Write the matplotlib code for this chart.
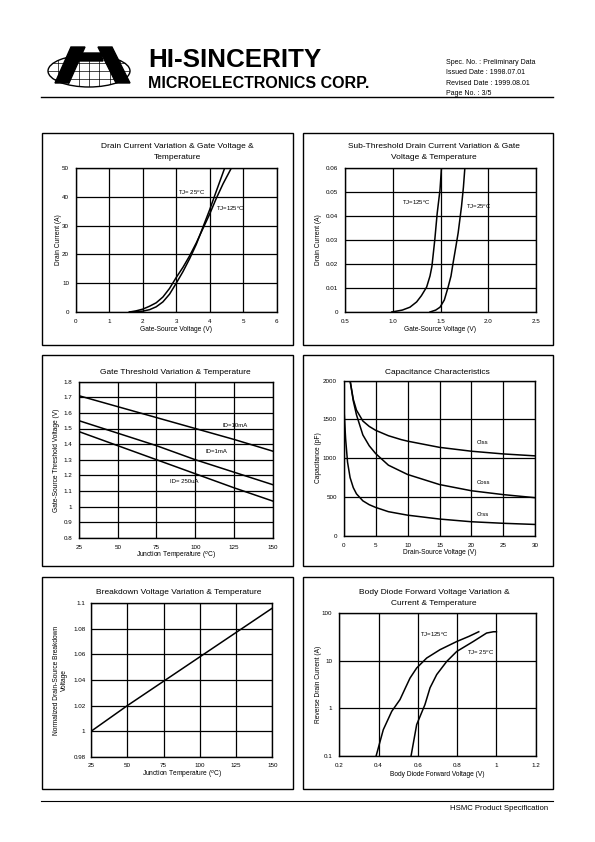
import matplotlib
matplotlib.use("Agg")
import matplotlib.pyplot as plt
from matplotlib.patches import Ellipse, Polygon, Rectangle
from matplotlib.lines import Line2D
import numpy as np

plt.rcParams['font.family'] = ['Liberation Sans', 'DejaVu Sans']

# ---------------- data ----------------
# Panel 1: Drain current vs gate voltage
id_vgs_125_x = [1.6, 1.8, 2.0, 2.2, 2.4, 2.6, 2.8, 3.0, 3.2, 3.4, 3.6, 3.8, 4.0, 4.2, 4.4, 4.65]
id_vgs_125_y = [0.0, 0.4, 1.0, 2.0, 3.2, 5.2, 8.2, 12.0, 15.5, 19.5, 24.0, 29.0, 34.0, 39.5, 44.5, 50.0]
id_vgs_25_x = [1.6, 1.8, 2.0, 2.2, 2.4, 2.6, 2.8, 3.0, 3.2, 3.4, 3.6, 3.8, 4.0, 4.2, 4.45]
id_vgs_25_y = [0.0, 0.1, 0.3, 0.8, 1.8, 3.5, 6.2, 10.0, 14.0, 18.5, 23.5, 29.5, 35.5, 42.0, 50.0]

# Panel 2: Sub-threshold drain current
sub_125_x = [0.99, 1.1, 1.18, 1.25, 1.3, 1.355, 1.39, 1.41, 1.44, 1.465, 1.495, 1.51]
sub_125_y = [0.0, 0.0008, 0.002, 0.0042, 0.0068, 0.0104, 0.015, 0.019, 0.030, 0.041, 0.051, 0.060]
sub_25_x = [1.39, 1.45, 1.495, 1.54, 1.58, 1.61, 1.63, 1.66, 1.685, 1.72, 1.74, 1.755]
sub_25_y = [0.0, 0.0008, 0.002, 0.005, 0.0104, 0.015, 0.020, 0.027, 0.033, 0.044, 0.052, 0.060]

# Panel 3: Gate threshold vs temperature
tj_temp = [25, 50, 75, 100, 125, 150]
vth_10ma = [1.71, 1.64, 1.57, 1.50, 1.43, 1.355]
vth_1ma = [1.55, 1.47, 1.39, 1.30, 1.22, 1.14]
vth_250ua = [1.48, 1.39, 1.30, 1.21, 1.12, 1.035]

# Panel 4: Capacitance
ciss_v = [1.0, 1.5, 2, 3, 4, 5, 7, 9, 10, 15, 20, 25, 30]
ciss_c = [2000, 1760, 1620, 1480, 1410, 1360, 1290, 1240, 1220, 1140, 1090, 1055, 1030]
coss_v = [1.0, 1.5, 2, 3, 4, 5, 7, 10, 15, 20, 25, 30]
coss_c = [2000, 1740, 1560, 1300, 1160, 1060, 910, 790, 660, 580, 530, 490]
crss_v = [0, 0.3, 0.6, 1.0, 1.5, 2, 3, 4, 5, 7, 10, 15, 20, 25, 30]
crss_c = [1700, 1250, 950, 750, 620, 540, 450, 400, 365, 310, 265, 215, 180, 160, 145]

# Panel 5: Breakdown voltage vs temperature
bv_temp = [25, 50, 75, 100, 125, 150]
bv_norm = [1.0, 1.02, 1.039, 1.058, 1.077, 1.096]

# Panel 6: Body diode
bd_125_v = [0.387, 0.424, 0.467, 0.509, 0.535, 0.56, 0.594, 0.645, 0.713, 0.798, 0.86, 0.91]
bd_125_i = [0.1, 0.36, 0.87, 1.53, 2.6, 4.3, 7.0, 11.3, 16.9, 25.0, 32.0, 40.0]
bd_25_v = [0.565, 0.594, 0.636, 0.662, 0.696, 0.747, 0.798, 0.882, 0.95, 0.985, 1.0]
bd_25_i = [0.1, 0.46, 1.2, 2.7, 5.1, 9.6, 15.5, 25.0, 37.6, 40.0, 40.0]

W, H = 595, 842
fig = plt.figure(figsize=(W / 100, H / 100), dpi=100)

def rect(x0, y0, x1, y1):
    return [x0 / W, 1 - y1 / H, (x1 - x0) / W, (y1 - y0) / H]

# background drawing layer in pixel coords
bg = fig.add_axes([0, 0, 1, 1])
bg.set_xlim(0, W)
bg.set_ylim(H, 0)
bg.axis('off')

# panel boxes
for (x0, x1) in [(42, 293), (303, 553)]:
    for (y0, y1) in [(133, 345), (355, 566), (577, 789)]:
        bg.add_patch(Rectangle((x0, y0), x1 - x0, y1 - y0, fill=False, lw=1.0, ec='black'))

# header / footer rules
bg.add_line(Line2D([41, 553], [97, 97], color='black', lw=1.0))
bg.add_line(Line2D([41, 553], [801, 801], color='black', lw=0.8))

# logo
ell = Ellipse((89, 71), 82, 32, fill=False, ec='black', lw=1.0)
bg.add_patch(ell)
clipell = Ellipse((89, 71), 82, 32, transform=bg.transData)
for gx in [58, 68, 79, 89, 99, 110, 120]:
    ln = Line2D([gx, gx], [50, 92], color='black', lw=0.5)
    bg.add_line(ln)
    ln.set_clip_path(clipell)
for gy in [63, 71, 79]:
    ln = Line2D([40, 140], [gy, gy], color='black', lw=0.5)
    bg.add_line(ln)
    ln.set_clip_path(clipell)
bg.add_patch(Polygon([(71, 47), (85, 47), (69, 83), (55, 83)], closed=True, fc='black', ec='black'))
bg.add_patch(Polygon([(98, 47), (112, 47), (130, 83), (116, 83)], closed=True, fc='black', ec='black'))
bg.add_patch(Polygon([(82, 53), (101, 53), (103, 61), (79, 61)], closed=True, fc='black', ec='black'))

bg.text(148, 67, "HI-SINCERITY", fontsize=18.7, fontweight='bold', ha='left', va='baseline',
        family=['Liberation Sans Narrow', 'Liberation Sans'])
bg.text(148, 88, "MICROELECTRONICS CORP.", fontsize=11.5, fontweight='bold', ha='left', va='baseline',
        family=['Liberation Sans Narrow', 'Liberation Sans'])
for i, s in enumerate(["Spec. No. : Preliminary Data", "Issued Date : 1998.07.01",
                       "Revised Date : 1999.08.01", "Page No. : 3/5"]):
    bg.text(446, 64 + i * 10.4, s, fontsize=5.0, ha='left', va='baseline')
bg.text(548, 810, "HSMC Product Specification", fontsize=5.6, ha='right', va='baseline')

TICK = 4.5
TITLE = 6.0
LAB = 4.8

def style(ax, pad=5):
    ax.grid(True, color='black', lw=0.9)
    ax.set_axisbelow(True)
    ax.tick_params(length=0, labelsize=TICK, pad=pad)
    for s in ax.spines.values():
        s.set_linewidth(1.0)

def ptext(x, y, s, size=TITLE, **kw):
    bg.text(x, y, s, fontsize=size, ha='center', va='center', **kw)

CL = dict(color='black', lw=1.1)

# ---- Panel 1 ----
ax1 = fig.add_axes(rect(76, 168, 276.5, 312))
ax1.plot(id_vgs_125_x, id_vgs_125_y, **CL)
ax1.plot(id_vgs_25_x, id_vgs_25_y, **CL)
ax1.set_xlim(0, 6); ax1.set_ylim(0, 50)
ax1.set_xticks(range(0, 7)); ax1.set_yticks(range(0, 51, 10))
style(ax1)
ax1.text(3.05, 41.3, "TJ= 25$^{o}$C", fontsize=4.3, va='center')
ax1.text(4.2, 35.7, "TJ=125$^{o}$C", fontsize=4.3, va='center')
ptext(177, 147, "Drain Current Variation & Gate Voltage &")
ptext(177, 157.5, "Temperature")
ptext(176, 329.5, "Gate-Source Voltage (V)", LAB)
ptext(59, 240, "Drain Current (A)", LAB, rotation=90)

# ---- Panel 2 ----
ax2 = fig.add_axes(rect(345, 168, 536, 312))
ax2.plot(sub_125_x, sub_125_y, **CL)
ax2.plot(sub_25_x, sub_25_y, **CL)
ax2.set_xlim(0.5, 2.5); ax2.set_ylim(0, 0.06)
ax2.set_xticks([0.5, 1.0, 1.5, 2.0, 2.5])
ax2.set_xticklabels(["0.5", "1.0", "1.5", "2.0", "2.5"])
ax2.set_yticks([0, 0.01, 0.02, 0.03, 0.04, 0.05, 0.06])
ax2.set_yticklabels(["0", "0.01", "0.02", "0.03", "0.04", "0.05", "0.06"])
style(ax2)
ax2.text(1.1, 0.0455, "TJ=125$^{o}$C", fontsize=4.3, va='center')
ax2.text(1.77, 0.0438, "TJ=25$^{o}$C", fontsize=4.3, va='center')
ptext(434, 147, "Sub-Threshold Drain Current Variation & Gate")
ptext(434, 157.5, "Voltage & Temperature")
ptext(440, 329.5, "Gate-Source Voltage (V)", LAB)
ptext(319, 240, "Drain Current (A)", LAB, rotation=90)

# ---- Panel 3 ----
ax3 = fig.add_axes(rect(79, 381.7, 272.7, 537.7))
ax3.plot(tj_temp, vth_10ma, **CL)
ax3.plot(tj_temp, vth_1ma, **CL)
ax3.plot(tj_temp, vth_250ua, **CL)
ax3.set_xlim(25, 150); ax3.set_ylim(0.8, 1.8)
ax3.set_xticks([25, 50, 75, 100, 125, 150])
yt3 = [0.8, 0.9, 1.0, 1.1, 1.2, 1.3, 1.4, 1.5, 1.6, 1.7, 1.8]
ax3.set_yticks(yt3)
ax3.set_yticklabels(["0.8", "0.9", "1", "1.1", "1.2", "1.3", "1.4", "1.5", "1.6", "1.7", "1.8"])
style(ax3)
ax3.text(117.7, 1.522, "ID=10mA", fontsize=4.3, va='center')
ax3.text(106.5, 1.353, "ID=1mA", fontsize=4.3, va='center')
ax3.text(83.7, 1.163, "ID= 250uA", fontsize=4.3, va='center')
ptext(175, 372, "Gate Threshold Variation & Temperature")
ptext(176, 556, "Junction Temperature ($^{o}$C)", LAB)
ptext(56, 460, "Gate-Source Threshold Voltage (V)", LAB, rotation=90)

# ---- Panel 4 ----
ax4 = fig.add_axes(rect(343.7, 380.7, 535.3, 535.7))
ax4.plot(ciss_v, ciss_c, **CL)
ax4.plot(coss_v, coss_c, **CL)
ax4.plot(crss_v, crss_c, **CL)
ax4.set_xlim(0, 30); ax4.set_ylim(0, 2000)
ax4.set_xticks(range(0, 31, 5)); ax4.set_yticks(range(0, 2001, 500))
style(ax4)
ax4.text(20.8, 1204, "Ciss", fontsize=4.3, va='center')
ax4.text(20.8, 680, "Coss", fontsize=4.3, va='center')
ax4.text(20.8, 275, "Crss", fontsize=4.3, va='center')
ptext(437.5, 372, "Capacitance Characteristics")
ptext(439.5, 553, "Drain-Source Voltage (V)", LAB)
ptext(319, 458, "Capacitance (pF)", LAB, rotation=90)

# ---- Panel 5 ----
ax5 = fig.add_axes(rect(91, 603, 272.3, 757))
ax5.plot(bv_temp, bv_norm, **CL)
ax5.set_xlim(25, 150); ax5.set_ylim(0.98, 1.1)
ax5.set_xticks([25, 50, 75, 100, 125, 150])
ax5.set_yticks([0.98, 1.0, 1.02, 1.04, 1.06, 1.08, 1.1])
ax5.set_yticklabels(["0.98", "1", "1.02", "1.04", "1.06", "1.08", "1.1"])
style(ax5, pad=4)
ptext(179, 593, "Breakdown Voltage Variation & Temperature")
ptext(182, 775, "Junction Temperature ($^{o}$C)", LAB)
ptext(57, 680, "Normalized Drain-Source Breakdown", LAB, rotation=90)
ptext(64.5, 680, "Voltage", LAB, rotation=90)

# ---- Panel 6 ----
ax6 = fig.add_axes(rect(339.3, 612.7, 535.7, 756.3))
ax6.plot(bd_125_v, bd_125_i, **CL)
ax6.plot(bd_25_v, bd_25_i, **CL)
ax6.set_yscale('log')
ax6.set_xlim(0.2, 1.2); ax6.set_ylim(0.1, 100)
ax6.set_xticks([0.2, 0.4, 0.6, 0.8, 1.0, 1.2])
ax6.set_xticklabels(["0.2", "0.4", "0.6", "0.8", "1", "1.2"])
ax6.set_yticks([0.1, 1, 10, 100])
ax6.set_yticklabels(["0.1", "1", "10", "100"])
ax6.minorticks_off()
style(ax6)
ax6.text(0.61, 34.7, "TJ=125$^{o}$C", fontsize=4.3, va='center')
ax6.text(0.85, 14.4, "TJ= 25$^{o}$C", fontsize=4.3, va='center')
ptext(434, 593, "Body Diode Forward Voltage Variation &")
ptext(434, 603.5, "Current & Temperature")
ptext(437.5, 774, "Body Diode Forward Voltage (V)", LAB)
ptext(319, 684, "Reverse Drain Current (A)", LAB, rotation=90)

fig.savefig("out.png", dpi=100)
